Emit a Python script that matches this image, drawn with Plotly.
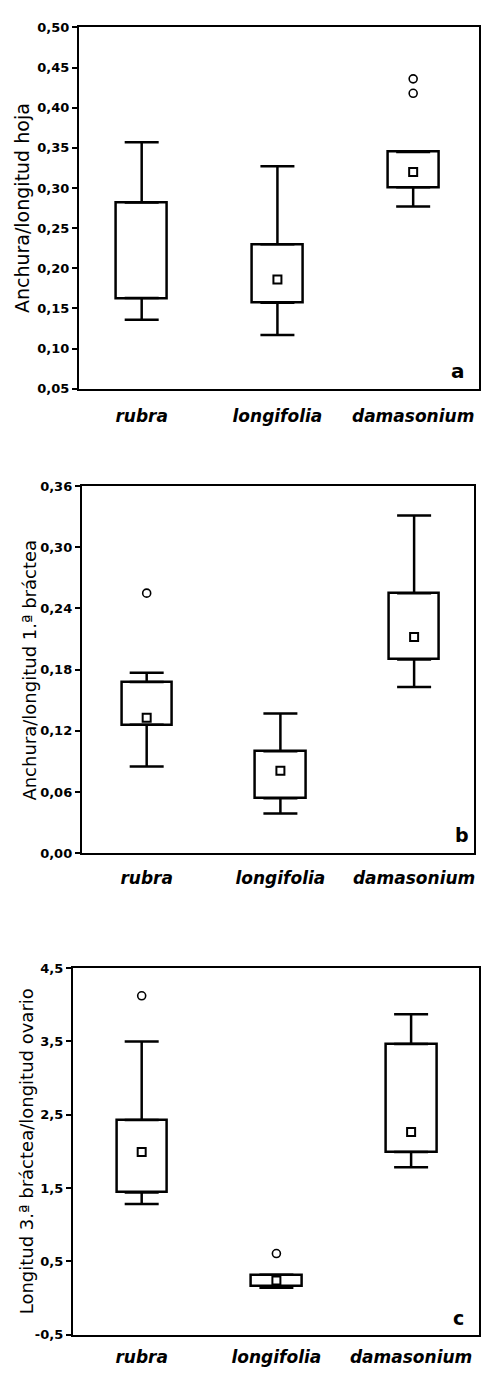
import plotly.graph_objects as go

# ---------------- data ----------------
categories = ["rubra", "longifolia", "damasonium"]

# panel a : Anchura/longitud hoja
a_q1 = [0.163, 0.157, 0.301]
a_q3 = [0.282, 0.230, 0.345]
a_low = [0.136, 0.117, 0.277]
a_high = [0.357, 0.327, 0.345]
a_median = [None, 0.186, 0.320]
a_out_cat = ["damasonium", "damasonium"]
a_out_val = [0.436, 0.418]
a_tickvals = [0.05, 0.10, 0.15, 0.20, 0.25, 0.30, 0.35, 0.40, 0.45, 0.50]
a_ticktext = ["0,05", "0,10", "0,15", "0,20", "0,25", "0,30", "0,35", "0,40", "0,45", "0,50"]

# panel b : Anchura/longitud 1.ª bráctea
b_q1 = [0.126, 0.054, 0.190]
b_q3 = [0.168, 0.100, 0.255]
b_low = [0.085, 0.039, 0.163]
b_high = [0.177, 0.137, 0.331]
b_median = [0.133, 0.081, 0.212]
b_out_cat = ["rubra"]
b_out_val = [0.255]
b_tickvals = [0.00, 0.06, 0.12, 0.18, 0.24, 0.30, 0.36]
b_ticktext = ["0,00", "0,06", "0,12", "0,18", "0,24", "0,30", "0,36"]

# panel c : Longitud 3.ª bráctea/longitud ovario
c_q1 = [1.438, 0.160, 1.991]
c_q3 = [2.427, 0.316, 3.466]
c_low = [1.281, 0.140, 1.784]
c_high = [3.497, 0.316, 3.871]
c_median = [1.991, 0.238, 2.265]
c_out_cat = ["rubra", "longifolia"]
c_out_val = [4.122, 0.606]
c_tickvals = [-0.5, 0.5, 1.5, 2.5, 3.5, 4.5]
c_ticktext = ["-0,5", "0,5", "1,5", "2,5", "3,5", "4,5"]

titles = ["Anchura/longitud hoja",
          "Anchura/longitud 1.ª bráctea",
          "Longitud 3.ª bráctea/longitud ovario"]
letters = ["a", "b", "c"]

# ---------------- figure ----------------
W, H = 481, 1373
FONT = "DejaVu Sans"
fig = go.Figure()

panels = [
    dict(q1=a_q1, q3=a_q3, lo=a_low, hi=a_high, med=a_median, oc=a_out_cat, ov=a_out_val,
         tv=a_tickvals, tt=a_ticktext, yr=[0.05, 0.50], xr=[-0.463, 2.485],
         xd=[79 / W, 480 / W], yd=[1 - 386 / H, 1 - 20.7 / H], xlen=11,
         tx=22, tsize=19, letter_xy=(459, 368), lsize=20),
    dict(q1=b_q1, q3=b_q3, lo=b_low, hi=b_high, med=b_median, oc=b_out_cat, ov=b_out_val,
         tv=b_tickvals, tt=b_ticktext, yr=[0.0, 0.36], xr=[-0.485, 2.448],
         xd=[82 / W, 475 / W], yd=[1 - 855.7 / H, 1 - 484.3 / H], xlen=8,
         tx=30, tsize=18, letter_xy=(463, 837), lsize=19),
    dict(q1=c_q1, q3=c_q3, lo=c_low, hi=c_high, med=c_median, oc=c_out_cat, ov=c_out_val,
         tv=c_tickvals, tt=c_ticktext, yr=[-0.5, 4.5], xr=[-0.511, 2.504],
         xd=[73 / W, 480 / W], yd=[1 - 1342.3 / H, 1 - 971.7 / H], xlen=6,
         tx=26, tsize=18, letter_xy=(459, 1325), lsize=19),
]

annotations = []
for i, p in enumerate(panels):
    n = "" if i == 0 else str(i + 1)
    xa, ya = "x" + n, "y" + n
    height = [t - b for t, b in zip(p["q3"], p["q1"])]
    up = [h - t for h, t in zip(p["hi"], p["q3"])]
    dn = [b - l for b, l in zip(p["q1"], p["lo"])]
    zeros = [0] * len(categories)

    fig.add_trace(go.Bar(x=categories, y=height, base=p["q1"], width=0.375,
                         marker=dict(color="white", line=dict(color="black", width=2.5)),
                         xaxis=xa, yaxis=ya, hoverinfo="skip"))
    fig.add_trace(go.Scatter(x=categories, y=p["q3"], mode="markers",
                             marker=dict(size=1, color="rgba(0,0,0,0)"),
                             error_y=dict(type="data", symmetric=False, array=up, arrayminus=zeros,
                                          color="black", thickness=2.5, width=17),
                             xaxis=xa, yaxis=ya, hoverinfo="skip"))
    fig.add_trace(go.Scatter(x=categories, y=p["q1"], mode="markers",
                             marker=dict(size=1, color="rgba(0,0,0,0)"),
                             error_y=dict(type="data", symmetric=False, array=zeros, arrayminus=dn,
                                          color="black", thickness=2.5, width=17),
                             xaxis=xa, yaxis=ya, hoverinfo="skip"))
    fig.add_trace(go.Scatter(x=categories, y=p["med"], mode="markers",
                             marker=dict(symbol="square", size=8, color="white",
                                         line=dict(color="black", width=2)),
                             xaxis=xa, yaxis=ya))
    fig.add_trace(go.Scatter(x=p["oc"], y=p["ov"], mode="markers",
                             marker=dict(symbol="circle-open", size=8, color="black",
                                         line=dict(color="black", width=1.6)),
                             xaxis=xa, yaxis=ya))

    fig.update_layout(**{
        "xaxis" + n: dict(domain=p["xd"], anchor=ya, type="category",
                          categoryorder="array", categoryarray=categories,
                          range=p["xr"], showline=True, mirror=True,
                          linecolor="black", linewidth=2, showgrid=False, zeroline=False,
                          ticks="outside", ticklen=p["xlen"], tickcolor="rgba(0,0,0,0)",
                          tickfont=dict(family=FONT, size=17, color="black",
                                        style="italic", weight="bold")),
        "yaxis" + n: dict(domain=p["yd"], anchor=xa, range=p["yr"],
                          tickmode="array", tickvals=p["tv"], ticktext=p["tt"],
                          showline=True, mirror=True, linecolor="black", linewidth=2,
                          showgrid=False, zeroline=False, ticks="outside", ticklen=5,
                          tickwidth=1.5, tickcolor="black",
                          tickfont=dict(family=FONT, size=13, color="black", weight="bold")),
    })

    annotations.append(dict(text=titles[i], textangle=-90, xref="paper", yref="paper",
                            x=p["tx"] / W, y=(p["yd"][0] + p["yd"][1]) / 2,
                            xanchor="center", yanchor="middle", showarrow=False,
                            font=dict(family=FONT, size=p["tsize"], color="black")))
    lx, ly = p["letter_xy"]
    annotations.append(dict(text=letters[i], xref="paper", yref="paper",
                            x=lx / W, y=1 - ly / H, xanchor="center", yanchor="middle",
                            showarrow=False,
                            font=dict(family=FONT, size=p["lsize"], color="black", weight="bold")))

fig.update_layout(width=W, height=H, margin=dict(l=0, r=0, t=0, b=0),
                  paper_bgcolor="white", plot_bgcolor="white", showlegend=False,
                  annotations=annotations, bargap=0)

fig.write_html("out.html", config={"displayModeBar": False},
               post_script="document.body.style.margin='0';document.body.style.padding='0';"
                           "document.body.style.overflow='hidden';"
                           "document.documentElement.style.overflow='hidden';")
